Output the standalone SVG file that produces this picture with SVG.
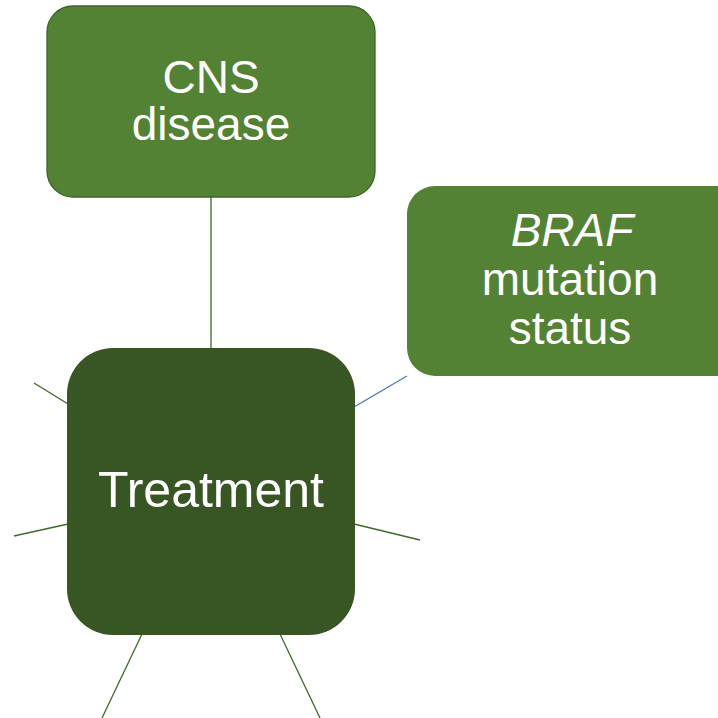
<svg xmlns="http://www.w3.org/2000/svg" width="718" height="718" viewBox="0 0 718 718">
<style>
.t{font-family:"Liberation Sans",Arial,sans-serif;fill:#fff;text-anchor:middle}
.c{stroke:#3d6b28;stroke-width:1.3;fill:none}
</style>
<rect width="718" height="718" fill="#fff"/>
<g id="connectors">
<line class="c" x1="211" y1="197" x2="211" y2="349" stroke="#6b7a60"/>
<line class="c" x1="34" y1="383" x2="68" y2="404"/>
<line class="c" x1="14" y1="536" x2="68" y2="524"/>
<line x1="354" y1="407" x2="407" y2="376" stroke="#4a78b8" stroke-width="1.3"/>
<line class="c" x1="354" y1="524" x2="420" y2="540"/>
<line class="c" x1="142" y1="634" x2="102" y2="718"/>
<line class="c" x1="280" y1="634" x2="320" y2="718"/>
</g>
<g id="cns">
<rect x="47" y="6" width="328" height="191" rx="26" fill="#548235" stroke="#3e6328" stroke-width="1.3"/>
<text class="t" x="211" y="93" font-size="46">CNS</text>
<text class="t" x="211" y="140" font-size="46">disease</text>
</g>
<g id="braf">
<rect x="407" y="186" width="340" height="190" rx="28" fill="#548235"/>
<text class="t" x="572" y="246" font-size="46" font-style="italic">BRAF</text>
<text class="t" x="570" y="295" font-size="46">mutation</text>
<text class="t" x="570" y="344" font-size="46">status</text>
</g>
<g id="treatment">
<rect x="67" y="348" width="288" height="287" rx="46" fill="#375623"/>
<text class="t" x="211" y="507" font-size="50">Treatment</text>
</g>
</svg>
